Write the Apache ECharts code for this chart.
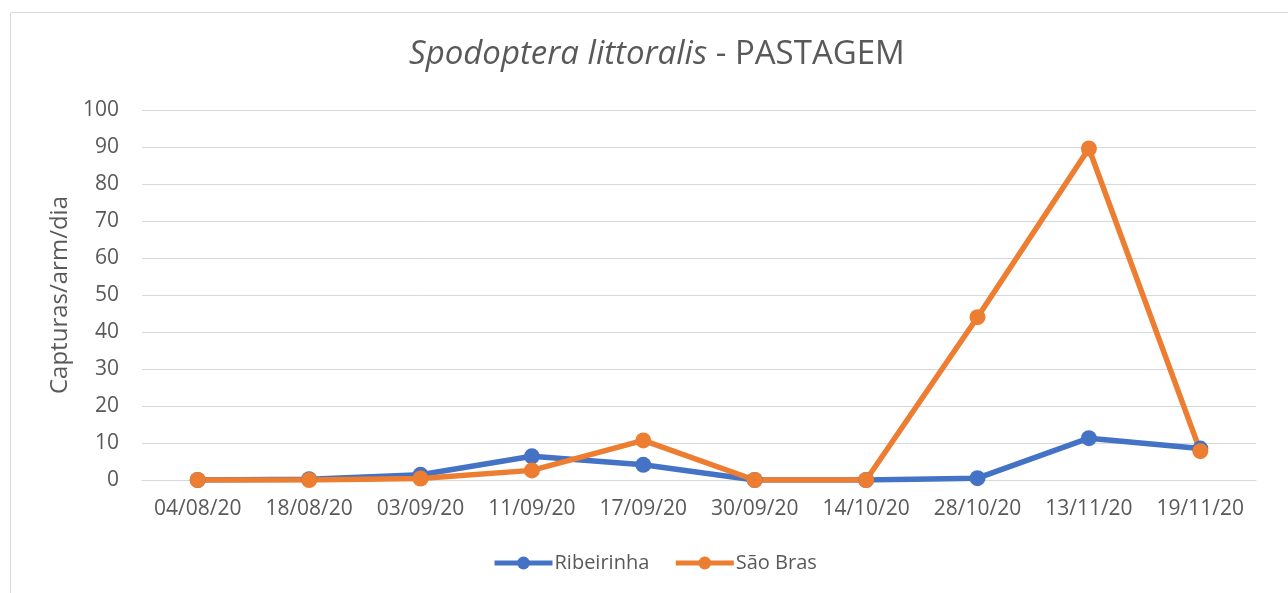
<!DOCTYPE html>
<html>
<head>
<meta charset="utf-8">
<script src="https://cdn.jsdelivr.net/npm/echarts@6/dist/echarts.min.js"></script>
<style>html,body{margin:0;padding:0;background:#fff;}#c{width:1288px;height:593px;}</style>
</head>
<body>
<div id="c"></div>
<script>
const categories = ['04/08/20','18/08/20','03/09/20','11/09/20','17/09/20','30/09/20','14/10/20','28/10/20','13/11/20','19/11/20'];
const ribeirinha = [0, 0.2, 1.4, 6.4, 4.1, 0, 0, 0.5, 11.3, 8.5];
const saoBras = [0, 0, 0.4, 2.6, 10.7, 0, 0, 44, 89.6, 7.8];
const yTicks = {min: 0, max: 100, interval: 10};

const font = '"Open Sans", "Liberation Sans", sans-serif';
const chart = echarts.init(document.getElementById('c'));
chart.setOption({
  animation: false,
  backgroundColor: '#fff',
  graphic: [{type:'rect', shape:{x:10.5, y:12.5, width:1300, height:620}, style:{fill:'none', stroke:'#d9d9d9', lineWidth:1}, silent:true}],
  title: {
    text: '{i|Spodoptera littoralis} - PASTAGEM',
    left: 404, top: 33,
    textStyle: {
      fontFamily: font, fontSize: 33, fontWeight: 'normal', color: '#595959',
      rich: {i: {fontStyle: 'italic', fontFamily: font, fontSize: 33, color: '#595959'}}
    }
  },
  legend: {
    bottom: 15, left: 487,
    itemWidth: 58, itemHeight: 16, itemGap: 24,
    lineStyle: {width: 5},
    textStyle: {fontFamily: font, fontSize: 20, color: '#595959', padding: [0, 0, 0, -3]},
    data: ['Ribeirinha', 'São Bras']
  },
  grid: {left: 142, right: 32, top: 110, bottom: 113, containLabel: false},
  xAxis: {
    type: 'category', data: categories, boundaryGap: true,
    axisLine: {show: true, lineStyle: {color: '#d9d9d9', width: 1}},
    axisTick: {show: false},
    axisLabel: {fontFamily: font, fontSize: 21, color: '#595959', margin: 19, interval: 0}
  },
  yAxis: {
    type: 'value', min: yTicks.min, max: yTicks.max, interval: yTicks.interval,
    name: 'Capturas/arm/dia', nameLocation: 'middle', nameGap: 70,
    nameTextStyle: {fontFamily: font, fontSize: 24, color: '#595959'},
    axisLine: {show: false}, axisTick: {show: false},
    axisLabel: {fontFamily: font, fontSize: 21, color: '#595959', margin: 23},
    splitLine: {lineStyle: {color: '#d9d9d9', width: 1}}
  },
  series: [
    {name: 'Ribeirinha', type: 'line', data: ribeirinha, symbol: 'circle', symbolSize: 16,
     color: '#4472C4', lineStyle: {width: 5.5, color: '#4472C4'}, itemStyle: {color: '#4472C4'}},
    {name: 'São Bras', type: 'line', data: saoBras, symbol: 'circle', symbolSize: 16,
     color: '#ED7D31', lineStyle: {width: 5.5, color: '#ED7D31'}, itemStyle: {color: '#ED7D31'}}
  ]
});
</script>
</body>
</html>
